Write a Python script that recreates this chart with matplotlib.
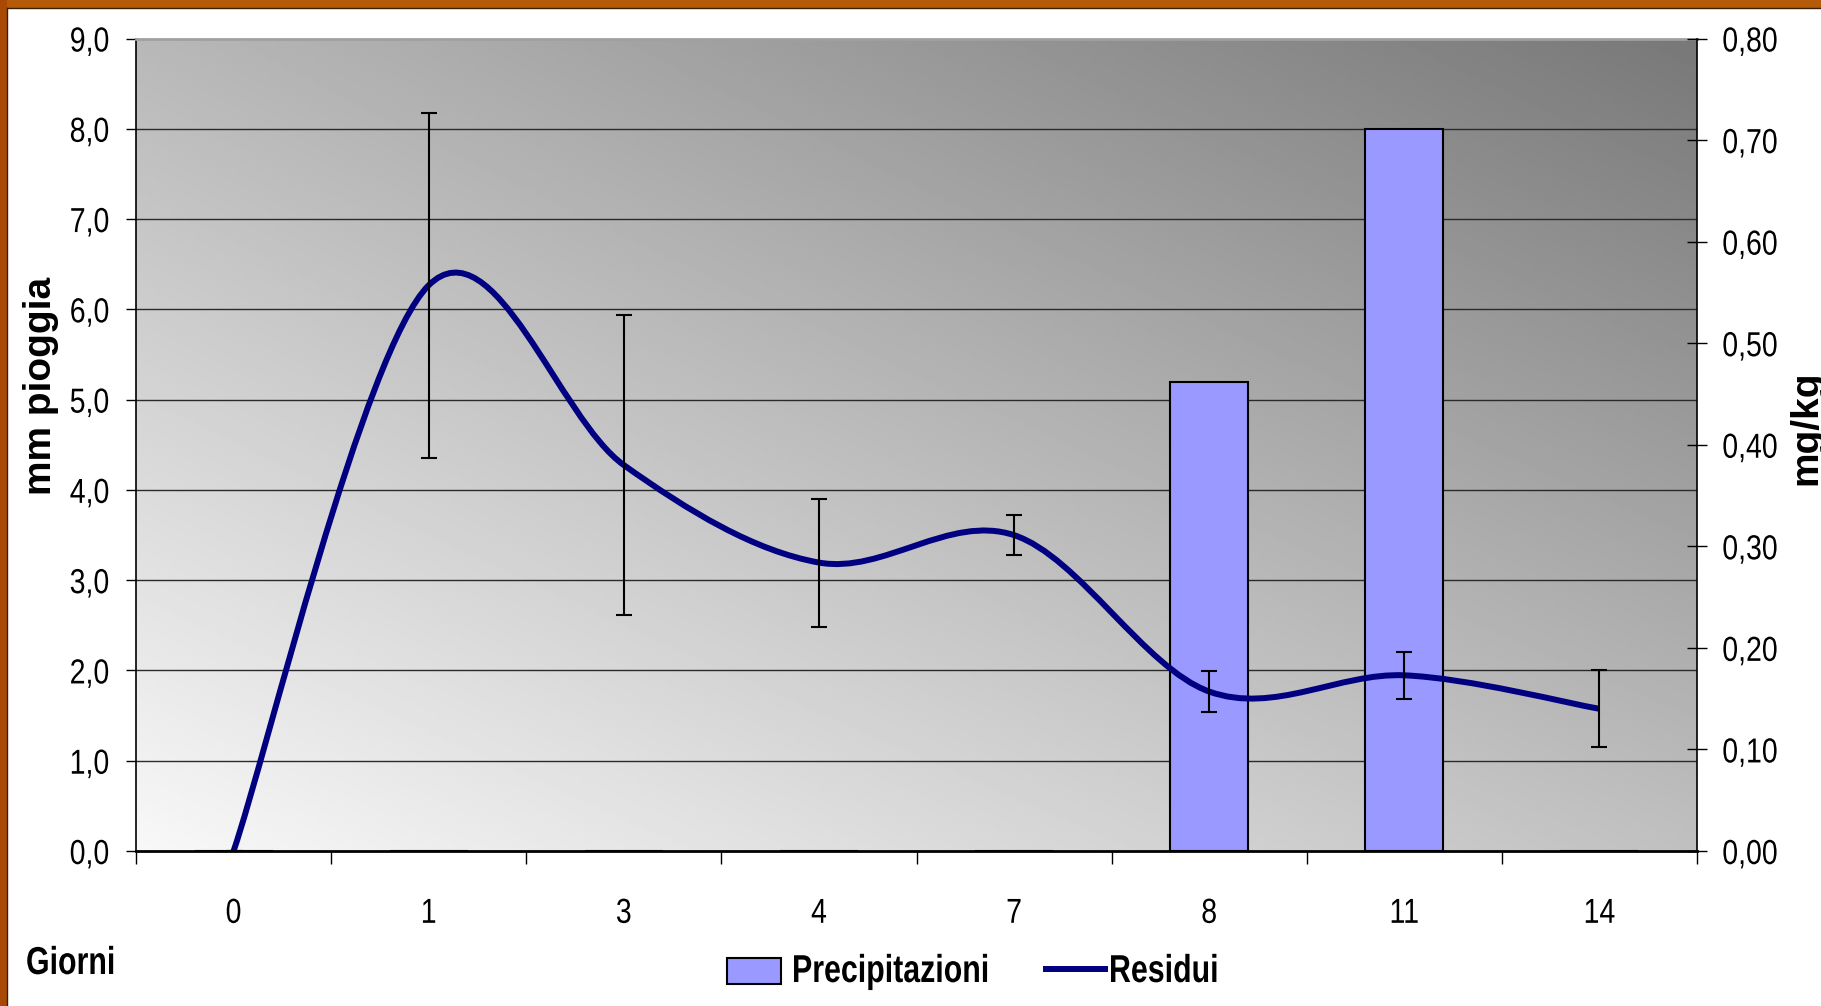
import numpy as np
import matplotlib
matplotlib.use("Agg")
import matplotlib.pyplot as plt
import matplotlib.patches as mpatches
from matplotlib.path import Path
from matplotlib.lines import Line2D
from matplotlib.patheffects import AbstractPathEffect
from matplotlib.transforms import Affine2D
from matplotlib.ticker import FuncFormatter, FixedLocator

plt.rcParams["font.family"] = ["Liberation Sans", "DejaVu Sans"]

# ── data ──────────────────────────────────────────────────────────────────────
giorni = ["0", "1", "3", "4", "7", "8", "11", "14"]
precipitazioni = [0.0, 0.0, 0.0, 0.0, 0.0, 5.2, 8.0, 0.0]            # mm pioggia
residui = [0.0, 0.557, 0.380, 0.284, 0.311, 0.157, 0.173, 0.140]     # mg/kg
residui_err = [0.0, 0.170, 0.148, 0.063, 0.020, 0.020, 0.023, 0.038]

W, H = 1821, 1006
def fx(px):
    return px / W
def fy(py):
    return 1 - py / H


# narrow font is not installed -> squeeze text horizontally around its anchor
class Condense(AbstractPathEffect):
    def __init__(self, text, sx=0.8):
        super().__init__()
        self.text = text
        self.sx = sx

    def draw_path(self, renderer, gc, tpath, affine, rgbFace=None):
        x0, y0 = self.text.get_transform().transform(self.text.get_unitless_position())
        ang = self.text.get_rotation()
        t = (Affine2D().translate(-x0, -y0).rotate_deg(-ang).scale(self.sx, 1)
             .rotate_deg(ang).translate(x0, y0))
        renderer.draw_path(gc, tpath, affine + t, rgbFace)


def condense(txt, sx):
    txt.set_path_effects([Condense(txt, sx)])


fig = plt.figure(figsize=(W / 100, H / 100), dpi=100)

# orange frame on top/left
fig.patches.append(mpatches.Rectangle((0, fy(8)), 1, 8 / H, transform=fig.transFigure,
                                      facecolor="#b55a08", edgecolor="none", zorder=0))
fig.patches.append(mpatches.Rectangle((0, 0), 6.5 / W, 1, transform=fig.transFigure,
                                      facecolor="#a84a06", edgecolor="none", zorder=0))
fig.add_artist(Line2D([6.5 / W, 1], [fy(8), fy(8)], transform=fig.transFigure,
                      color="#3a2000", lw=1))
fig.add_artist(Line2D([6.5 / W, 6.5 / W], [0, fy(8)], transform=fig.transFigure,
                      color="#3a2000", lw=1))

left, right, top, bottom = 136, 1697, 38.5, 851
ax = fig.add_axes([fx(left), fy(bottom), (right - left) / W, (bottom - top) / H])
ax2 = ax.twinx()

x = np.arange(len(giorni))

# ── gradient background ──────────────────────────────────────────────────────
gx, gy = np.meshgrid(np.linspace(0, 1, 400), np.linspace(0, 1, 300))
grad = (248 - 56 * gx - 64 * gy - 8 * gx * gy) / 255.0
ax.imshow(grad, cmap="gray", vmin=0, vmax=1, origin="lower", extent=[0, 1, 0, 1],
          transform=ax.transAxes, aspect="auto", zorder=0, interpolation="bilinear")

# ── bars (left axis) ─────────────────────────────────────────────────────────
ax.bar(x, precipitazioni, width=0.4, color="#9999ff", edgecolor="black",
       linewidth=1.5, zorder=3)
ax.set_xlim(-0.5, len(giorni) - 0.5)
ax.set_ylim(0, 9)
ax.yaxis.set_major_locator(FixedLocator(np.arange(0, 9.01, 1.0)))
ax.yaxis.set_major_formatter(FuncFormatter(lambda v, p: f"{v:.1f}".replace(".", ",")))
for g in np.arange(1, 9):
    ax.axhline(g, color="#2a2a2a", lw=1.0, zorder=1)

# ── smoothed line (right axis), Catmull-Rom style like Excel ────────────────
pts = np.column_stack([x, residui]).astype(float)
n = len(pts)
verts = [pts[0]]
codes = [Path.MOVETO]
for i in range(n - 1):
    p_prev = pts[max(i - 1, 0)]
    p0, p1 = pts[i], pts[i + 1]
    p_next = pts[min(i + 2, n - 1)]
    c1 = p0 + (p1 - p_prev) / 6.0
    c2 = p1 - (p_next - p0) / 6.0
    verts += [c1, c2, p1]
    codes += [Path.CURVE4] * 3
ax2.add_patch(mpatches.PathPatch(Path(verts, codes), fill=False, edgecolor="#000080",
                                 lw=4.3, capstyle="butt", joinstyle="round", zorder=4))
ax2.errorbar(x, residui, yerr=residui_err, fmt="none", ecolor="black",
             elinewidth=1.5, capsize=5.5, capthick=1.5, zorder=5)
ax2.set_ylim(0, 0.8)
ax2.yaxis.set_major_locator(FixedLocator(np.arange(0, 0.801, 0.1)))
ax2.yaxis.set_major_formatter(FuncFormatter(lambda v, p: f"{v:.2f}".replace(".", ",")))

# ── axes styling ─────────────────────────────────────────────────────────────
ax.set_xticks(x)
ax.set_xticklabels(giorni)
ax.set_xticks(np.arange(-0.5, len(giorni), 1.0), minor=True)
ax.tick_params(axis="x", which="major", length=0, pad=33, labelsize=25)
ax.tick_params(axis="x", which="minor", length=9.5, width=1, direction="out")
ax.tick_params(axis="y", length=7.2, width=1, direction="out", pad=12, labelsize=25)
ax2.tick_params(axis="y", length=14.4, width=1, direction="inout", pad=11, labelsize=25)

ax.spines["right"].set_visible(False)
for s in ["left", "top", "bottom"]:
    ax2.spines[s].set_visible(False)
ax.spines["top"].set_color("#a0a0a0")
ax.spines["top"].set_linewidth(2)
ax.spines["left"].set_linewidth(1.2)
ax.spines["bottom"].set_linewidth(2)
ax2.spines["right"].set_linewidth(1.2)

# ── labels ───────────────────────────────────────────────────────────────────
fig.text(fx(51), fy(386), "mm pioggia", rotation=90, rotation_mode="anchor",
         ha="center", va="baseline", fontsize=28, fontweight="bold")
fig.text(fx(1816), fy(428), "mg/kg", rotation=90, rotation_mode="anchor",
         ha="center", va="baseline", fontsize=28, fontweight="bold")
t_giorni = fig.text(fx(26), fy(974), "Giorni", ha="left", va="baseline",
                    fontsize=28, fontweight="bold")
condense(t_giorni, 0.78)

# ── legend (keys placed by hand so the squeezed text fits) ───────────────────
fig.patches.append(mpatches.Rectangle((fx(727), fy(984)), 54 / W, 26 / H,
                                      transform=fig.transFigure, facecolor="#9999ff",
                                      edgecolor="black", linewidth=1.5))
fig.add_artist(Line2D([fx(1046), fx(1105)], [fy(969), fy(969)],
                      transform=fig.transFigure, color="#000080", lw=4.3))
t1 = fig.text(fx(792), fy(982), "Precipitazioni", ha="left", va="baseline",
              fontsize=28, fontweight="bold")
t2 = fig.text(fx(1109), fy(982), "Residui", ha="left", va="baseline",
              fontsize=28, fontweight="bold")
condense(t1, 0.78)
condense(t2, 0.78)

fig.canvas.draw()
for lab in ax.get_xticklabels() + ax.get_yticklabels() + ax2.get_yticklabels():
    condense(lab, 0.82)

plt.savefig("out.png", dpi=100)
plt.close()
